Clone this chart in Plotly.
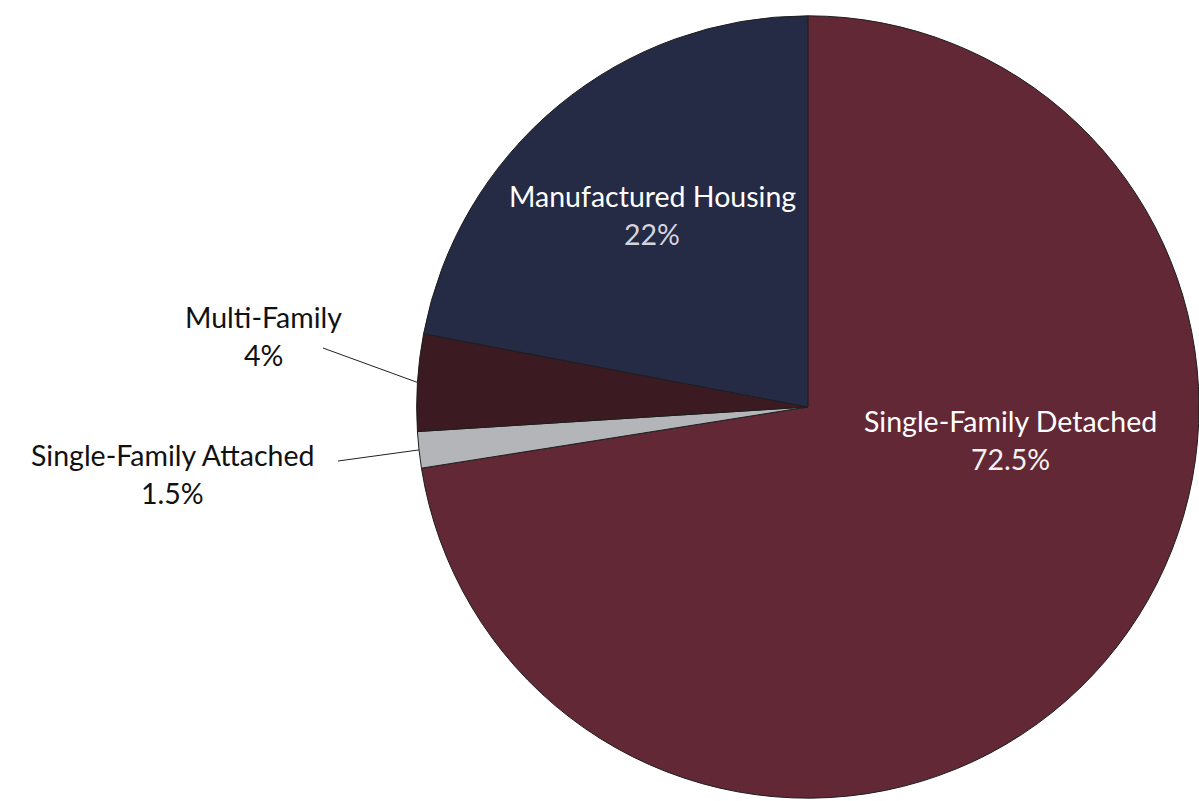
import math
import plotly.graph_objects as go

# Housing type shares (percent), clockwise from 12 o'clock
categories = ["Single-Family Detached", "Single-Family Attached", "Multi-Family", "Manufactured Housing"]
shares = [72.5, 1.5, 4, 22]
pct_labels = ["72.5%", "1.5%", "4%", "22%"]
colors = ["#622835", "#b4b5b8", "#3b1a21", "#252a45"]

W, H = 1199, 801
FONT = "Lato, 'Open Sans', sans-serif"
FONT_SIZE = 28.5

# Pie domain in paper units (no margins)
dom_x = [0.3475, 1.0]
dom_y = [0.0, 0.9838]
cx = (dom_x[0] + dom_x[1]) / 2 * W
cy = (1 - (dom_y[0] + dom_y[1]) / 2) * H
radius = min((dom_x[1] - dom_x[0]) * W, (dom_y[1] - dom_y[0]) * H) / 2

fig = go.Figure(go.Pie(
    labels=categories,
    values=shares,
    sort=False,
    direction="clockwise",
    rotation=0,
    marker=dict(colors=colors, line=dict(color="#1e1e1e", width=1)),
    textinfo="none",
    hoverinfo="label+percent",
    domain=dict(x=dom_x, y=dom_y),
    showlegend=False,
))

def px(x):
    return x / W

def py(y):
    return 1 - y / H

# Label layout: (name position in pixels, text colour, percent colour, leader line start or None)
label_specs = {
    "Single-Family Detached": ((1010, 421), "#ffffff", "#f2f2f2", None),
    "Manufactured Housing": ((652, 196), "#ffffff", "#d4d5dc", None),
    "Multi-Family": ((263, 317), "#111111", "#111111", (323, 348)),
    "Single-Family Attached": ((172, 455), "#111111", "#111111", (338, 461)),
}

total = sum(shares)
cum = 0.0
for cat, val, pct in zip(categories, shares, pct_labels):
    mid = (cum + val / 2) / total * 2 * math.pi
    cum += val
    (lx, ly), c_name, c_pct, line_start = label_specs[cat]
    fig.add_annotation(x=px(lx), y=py(ly), xref="paper", yref="paper",
                       text=cat, showarrow=False, xanchor="center", yanchor="middle",
                       font=dict(family=FONT, size=FONT_SIZE, color=c_name))
    fig.add_annotation(x=px(lx), y=py(ly + 38), xref="paper", yref="paper",
                       text=pct, showarrow=False, xanchor="center", yanchor="middle",
                       font=dict(family=FONT, size=FONT_SIZE, color=c_pct))
    if line_start is not None:
        ex = cx + radius * math.sin(mid)
        ey = cy - radius * math.cos(mid)
        fig.add_shape(type="line", xref="paper", yref="paper",
                      x0=px(line_start[0]), y0=py(line_start[1]),
                      x1=px(ex), y1=py(ey),
                      line=dict(color="#222222", width=1))

fig.update_layout(
    width=W, height=H,
    margin=dict(l=0, r=0, t=0, b=0),
    paper_bgcolor="#ffffff",
    plot_bgcolor="#ffffff",
)

fig.write_html("out.html")
